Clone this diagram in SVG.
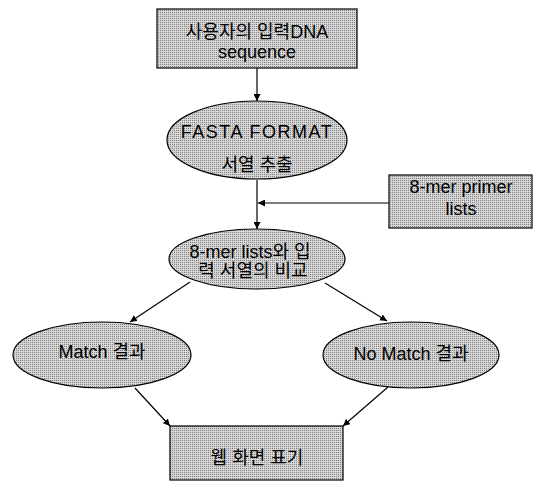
<svg xmlns="http://www.w3.org/2000/svg" width="533" height="483" viewBox="0 0 533 483">
<style>
.shape{fill:url(#dither);stroke:#000;stroke-width:1.2}
.t{font-family:"Liberation Sans","Noto Sans CJK KR",Arial,sans-serif;font-size:18px;fill:#000;text-anchor:middle}
.c{fill:none;stroke:#000;stroke-width:1.2;marker-end:url(#arr)}
</style>
<defs>
<pattern id="dither" width="2" height="2" patternUnits="userSpaceOnUse">
<rect width="2" height="2" fill="#d6d6d6"/>
<rect width="1" height="1" fill="#808080"/>
</pattern>
<marker id="arr" viewBox="0 0 10 10" refX="10" refY="5" markerWidth="7" markerHeight="7" markerUnits="userSpaceOnUse" orient="auto">
<path d="M0,0 L10,5 L0,10 z" fill="#000"/>
</marker>
</defs>
<rect width="533" height="483" fill="#fff"/>
<g id="connectors">
<line class="c" x1="257" y1="68" x2="257" y2="101"/>
<line class="c" x1="257" y1="180" x2="257" y2="229"/>
<line class="c" x1="389" y1="203" x2="258" y2="203"/>
<line class="c" x1="190" y1="282" x2="130" y2="322"/>
<line class="c" x1="325" y1="283" x2="387" y2="321"/>
<line class="c" x1="135" y1="388" x2="170" y2="426"/>
<line class="c" x1="388" y1="387" x2="343" y2="426"/>
</g>
<g id="input">
<rect class="shape" x="157" y="9" width="200" height="59"/>
<text class="t" x="257" y="38">사용자의 입력DNA</text>
<text class="t" x="257" y="58">sequence</text>
</g>
<g id="fasta">
<ellipse class="shape" cx="257" cy="140" rx="90" ry="39"/>
<text class="t" x="257" y="138" letter-spacing="1.5">FASTA FORMAT</text>
<text class="t" x="257" y="171">서열 추출</text>
</g>
<g id="primer">
<rect class="shape" x="389" y="175" width="143" height="53"/>
<text class="t" x="461" y="193">8-mer primer</text>
<text class="t" x="461" y="215">lists</text>
</g>
<g id="compare">
<ellipse class="shape" cx="257" cy="259" rx="88" ry="30"/>
<text class="t" x="250" y="258">8-mer lists와 입</text>
<text class="t" x="253" y="277">력 서열의 비교</text>
</g>
<g id="match">
<ellipse class="shape" cx="102" cy="355" rx="89" ry="33"/>
<text class="t" x="102" y="358">Match 결과</text>
</g>
<g id="nomatch">
<ellipse class="shape" cx="411" cy="355" rx="88" ry="33"/>
<text class="t" x="411" y="360">No Match 결과</text>
</g>
<g id="web">
<rect class="shape" x="170" y="426" width="173" height="54"/>
<text class="t" x="257" y="464">웹 화면 표기</text>
</g>
</svg>
